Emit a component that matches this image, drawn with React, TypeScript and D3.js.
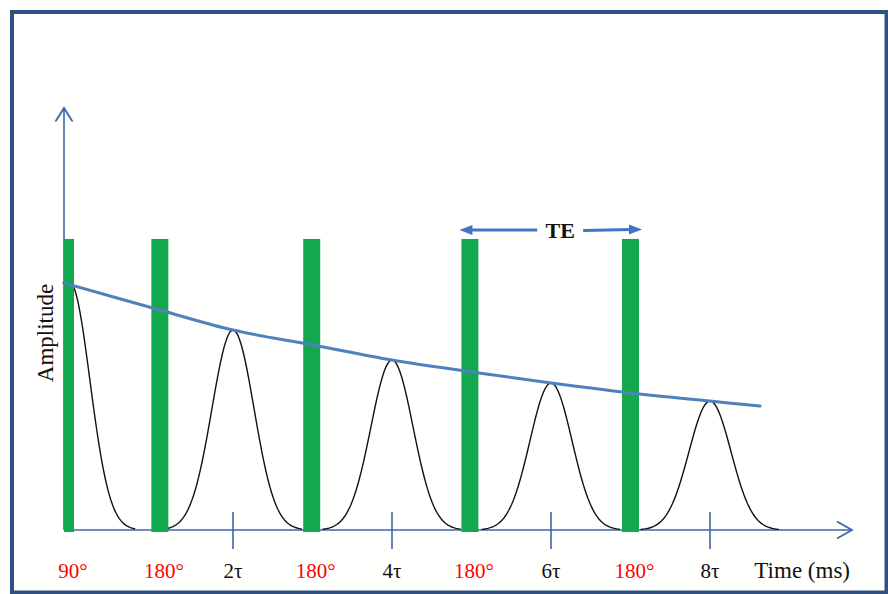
import React from "react";
import * as d3 from "d3";

// ---- data (time in units of tau, amplitude relative) ----
const pulseTimes = [-0.063, 1.08, 2.99, 4.98, 7.0];
const pulseLabels = ["90°", "180°", "180°", "180°", "180°"];
const pulseHeights = [1.0, 1.0, 1.0, 1.0, 1.0];

const tickTimes = [2, 4, 6, 8];
const tickLabels = ["2τ", "4τ", "6τ", "8τ"];

const fidTime = -0.05;
const fidAmp = 0.849;
const echoTimes = [2, 4, 6, 8];
const echoAmps = [0.687, 0.584, 0.505, 0.443];
const echoSigma = 0.265;
const fidSigma = 0.25;

const envTimes = [-0.13, 1.08, 2.0, 3.0, 4.0, 5.0, 6.0, 7.0, 8.0, 8.63];
const envAmps = [0.849, 0.756, 0.687, 0.636, 0.584, 0.543, 0.505, 0.471, 0.443, 0.426];

const W = 888;
const H = 594;
const SERIF = "Liberation Serif, Times New Roman, DejaVu Serif, serif";
const AXIS = "#3f66a8";
const GREEN = "#12a84d";
const BLUE = "#4f81bd";
const ARROW = "#4472c4";

export default function App() {
  const x = d3.scaleLinear().domain([0, 8]).range([74, 710]);
  const y = d3.scaleLinear().domain([0, 1.45]).range([530, 108]);

  const axisLeft = 64;
  const axisRight = 852;
  const y0 = y(0);
  const yTop = y(1.45);

  const line = d3
    .line<[number, number]>()
    .x((d) => x(d[0]))
    .y((d) => y(d[1]));

  const gauss = (c: number, a: number, s: number, from: number, to: number) =>
    d3.range(from, to + 1e-9, 0.02).map((t) => [t, a * Math.exp(-((t - c) ** 2) / (2 * s * s))] as [number, number]);

  const fidPath = line(gauss(fidTime, fidAmp, fidSigma, fidTime, fidTime + 3.3 * fidSigma)) || "";
  const echoPaths = echoTimes.map(
    (c, i) => line(gauss(c, echoAmps[i], echoSigma, c - 3.3 * echoSigma, c + 3.3 * echoSigma)) || ""
  );

  const envLine = d3
    .line<number>()
    .x((_, i) => x(envTimes[i]))
    .y((d) => y(d))
    .curve(d3.curveCatmullRom.alpha(0.5));
  const envPath = envLine(envAmps) || "";

  const barW = (i: number) => (i === 0 ? 10 : 17);

  // TE arrow between 4th and 5th pulses
  const teL = x(pulseTimes[3]) - barW(3) / 2 - 2;
  const teR = x(pulseTimes[4]) + barW(4) / 2 + 3;
  const teMid = (x(pulseTimes[3]) + x(pulseTimes[4])) / 2 + 10;
  const teY = 230;

  return (
    <svg
      width={W}
      height={H}
      viewBox={`0 0 ${W} ${H}`}
      style={{ position: "absolute", left: 0, top: 0, background: "#ffffff" }}
    >
      <rect x={12} y={12} width={874.5} height={580.5} fill="#fffffd" stroke="#30507f" strokeWidth={4} />

      {/* axes */}
      <line x1={axisLeft} y1={y0} x2={axisLeft} y2={yTop} stroke={AXIS} strokeWidth={1.6} />
      <polyline
        points={`${axisLeft - 8.5},${yTop + 13.5} ${axisLeft},${yTop} ${axisLeft + 8.5},${yTop + 13.5}`}
        fill="none"
        stroke={AXIS}
        strokeWidth={1.8}
      />
      <line x1={axisLeft} y1={y0} x2={axisRight} y2={y0} stroke={AXIS} strokeWidth={1.6} />
      <polyline
        points={`${axisRight - 15},${y0 - 8.5} ${axisRight},${y0} ${axisRight - 15},${y0 + 8.5}`}
        fill="none"
        stroke={AXIS}
        strokeWidth={1.8}
      />
      {tickTimes.map((t, i) => (
        <line key={"tk" + i} x1={x(t)} x2={x(t)} y1={y0 - 18} y2={y0 + 19} stroke={AXIS} strokeWidth={1.6} />
      ))}

      {/* signal */}
      <path d={fidPath} fill="none" stroke="#111" strokeWidth={1.4} />
      {echoPaths.map((p, i) => (
        <path key={"e" + i} d={p} fill="none" stroke="#111" strokeWidth={1.4} />
      ))}

      {/* RF pulses */}
      {pulseTimes.map((t, i) => (
        <rect
          key={"p" + i}
          x={x(t) - barW(i) / 2}
          y={y(pulseHeights[i])}
          width={barW(i)}
          height={y0 - y(pulseHeights[i]) + 2}
          fill={GREEN}
        />
      ))}

      {/* T2 envelope */}
      <path d={envPath} fill="none" stroke={BLUE} strokeWidth={3} strokeLinecap="round" />

      {/* TE arrow */}
      <line x1={teL + 10} y1={teY} x2={teMid - 23} y2={teY} stroke={ARROW} strokeWidth={3} />
      <polygon points={`${teL},${teY} ${teL + 13},${teY - 5} ${teL + 13},${teY + 5}`} fill={ARROW} />
      <line x1={teMid + 23} y1={teY + 0.5} x2={teR - 10} y2={teY - 0.5} stroke={ARROW} strokeWidth={3} />
      <polygon points={`${teR},${teY - 0.5} ${teR - 13},${teY - 5.5} ${teR - 13},${teY + 4.5}`} fill={ARROW} />
      <text x={teMid} y={teY + 8} textAnchor="middle" fontFamily={SERIF} fontWeight="bold" fontSize={22} fill="#111">
        TE
      </text>

      {/* labels */}
      {pulseTimes.map((t, i) => (
        <text key={"pl" + i} x={x(t) + 4} y={578} textAnchor="middle" fontFamily={SERIF} fontSize={21} fill="#ff0000">
          {pulseLabels[i]}
        </text>
      ))}
      {tickTimes.map((t, i) => (
        <text key={"tl" + i} x={x(t)} y={578} textAnchor="middle" fontFamily={SERIF} fontSize={21} fill="#111">
          {tickLabels[i]}
        </text>
      ))}
      <text x={850} y={578} textAnchor="end" fontFamily={SERIF} fontSize={23} fill="#111">
        Time (ms)
      </text>
      <text
        transform={`translate(53, 333) rotate(-90)`}
        textAnchor="middle"
        fontFamily={SERIF}
        fontSize={23}
        fill="#111"
      >
        Amplitude
      </text>
    </svg>
  );
}
